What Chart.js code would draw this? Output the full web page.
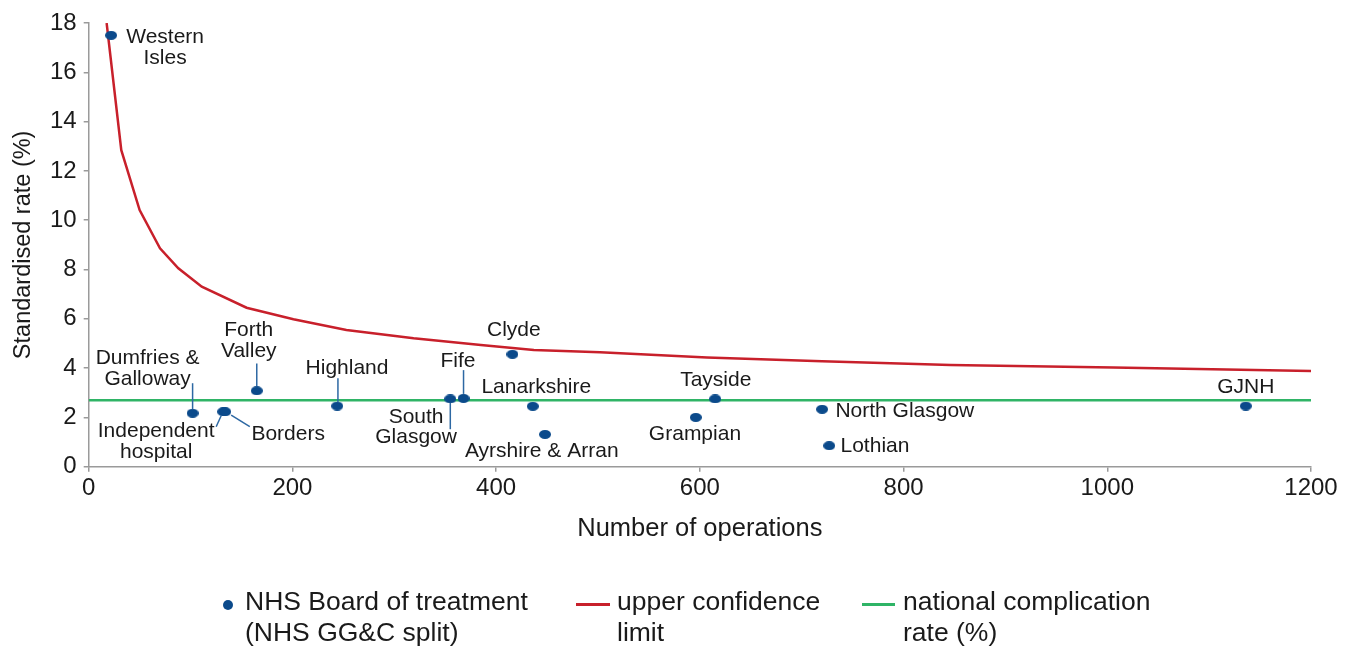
<!DOCTYPE html>
<html>
<head>
<meta charset="utf-8">
<script src="https://cdn.jsdelivr.net/npm/chart.js@4.4.0/dist/chart.umd.min.js"></script>
<style>
  html, body { margin: 0; padding: 0; background: #fff; }
  .chart-wrap { position: relative; width: 1349px; height: 646px; }
  .chart-legend { position: absolute; left: 0; top: 586px; width: 1349px; height: 60px;
    font-family: 'Liberation Sans', Arial, sans-serif; font-size: 26.5px; color: #1a1a1a; }
  .chart-legend__item { position: absolute; top: 0; line-height: 31px; white-space: pre-line; }
  .chart-legend__dot { position: absolute; width: 10px; height: 10px; border-radius: 50%; }
  .chart-legend__line { position: absolute; height: 3px; }
</style>
</head>
<body>
<div class="chart-wrap">
  <canvas id="chart" width="1349" height="646"></canvas>
  <div class="chart-legend js-legend"></div>
</div>
<script>
// NHS boards: number of operations vs standardised complication rate
const boardNames = ['Western Isles', 'Dumfries & Galloway', 'Independent hospital', 'Borders', 'Forth Valley',
  'Highland', 'South Glasgow', 'Fife', 'Clyde', 'Lanarkshire', 'Ayrshire & Arran', 'Grampian', 'Tayside',
  'North Glasgow', 'Lothian', 'GJNH'];
const boardOperations = [22, 102, 132, 134, 165, 244, 355, 368, 416, 436, 448, 596, 615, 720, 727, 1136];
const boardRates = [17.5, 2.17, 2.23, 2.23, 3.08, 2.46, 2.75, 2.77, 4.56, 2.45, 1.31, 2.0, 2.75, 2.33, 0.85, 2.46];

// upper confidence limit
const uclOperations = [17.6, 32, 50, 70, 88, 111, 155, 201, 253, 319, 385, 437, 502, 607, 720, 846, 1006, 1200];
const uclRates = [18.0, 12.84, 10.41, 8.86, 8.05, 7.3, 6.45, 5.98, 5.55, 5.21, 4.94, 4.73, 4.64, 4.43, 4.28, 4.13, 4.02, 3.88];

const nationalRate = 2.7;
const operationsRange = [0, 1200];
const rateRange = [0, 18];

const legendLabels = ['NHS Board of treatment\n(NHS GG&C split)', 'upper confidence\nlimit', 'national complication\nrate (%)'];

const FONT = "'Liberation Sans', Arial, sans-serif";
const TEXT = '#1a1a1a';
const AXIS = '#9a9a9a';
const BLUE = '#0b4a8b';
const RED = '#c8202b';
const GREEN = '#2fb466';

// label placement relative to each dot, in pixels
const labelLayout = {
  'Western Isles': { lines: ['Western', 'Isles'], dx: 54, dy: [8, 29] },
  'Dumfries & Galloway': { lines: ['Dumfries &', 'Galloway'], dx: -45, dy: [-49.5, -28], leader: [0, -30, 0, -4] },
  'Independent hospital': { lines: ['Independent', 'hospital'], dx: -67, dy: [25.3, 46.3], leader: [-7, 15, -2, 4] },
  'Borders': { lines: ['Borders'], dx: 63, dy: [28], leader: [6, 3.3, 24.6, 15] },
  'Forth Valley': { lines: ['Forth', 'Valley'], dx: -8, dy: [-54.7, -33.7], leader: [0, -27.4, 0, -4.5] },
  'Highland': { lines: ['Highland'], dx: 9.8, dy: [-32], leader: [0.7, -27.7, 0.7, -4] },
  'South Glasgow': { lines: ['South', 'Glasgow'], dx: -34.2, dy: [24, 44.5], leader: [0, 4, 0, 30.3] },
  'Fife': { lines: ['Fife'], dx: -5.6, dy: [-31.3], leader: [0, -28.3, 0, -4.5] },
  'Clyde': { lines: ['Clyde'], dx: 1.4, dy: [-18.3] },
  'Lanarkshire': { lines: ['Lanarkshire'], dx: 3.5, dy: [-13.6] },
  'Ayrshire & Arran': { lines: ['Ayrshire & Arran'], dx: -3.3, dy: [22.4] },
  'Grampian': { lines: ['Grampian'], dx: -0.8, dy: [22.7] },
  'Tayside': { lines: ['Tayside'], dx: 0.6, dy: [-13] },
  'North Glasgow': { lines: ['North Glasgow'], dx: 13.3, dy: [8], align: 'left' },
  'Lothian': { lines: ['Lothian'], dx: 11.3, dy: [6], align: 'left' },
  'GJNH': { lines: ['GJNH'], dx: 0, dy: [-13.3] },
};

const makeDot = (w, h, color) => {
  const c = document.createElement('canvas');
  c.width = w;
  c.height = h;
  const ctx = c.getContext('2d');
  ctx.fillStyle = color;
  ctx.beginPath();
  ctx.ellipse(w / 2, h / 2, w / 2, h / 2, 0, 0, Math.PI * 2);
  ctx.fill();
  return c;
};

const boardLabels = {
  id: 'boardLabels',
  afterDatasetsDraw(chart) {
    const { ctx } = chart;
    const meta = chart.getDatasetMeta(0);
    ctx.save();
    ctx.font = `21px ${FONT}`;
    ctx.fillStyle = TEXT;
    ctx.textBaseline = 'alphabetic';
    meta.data.forEach((pt, i) => {
      const cfg = labelLayout[boardNames[i]];
      if (!cfg) return;
      if (cfg.leader) {
        const [x1, y1, x2, y2] = cfg.leader;
        ctx.strokeStyle = '#2d68a3';
        ctx.lineWidth = 1.5;
        ctx.beginPath();
        ctx.moveTo(pt.x + x1, pt.y + y1);
        ctx.lineTo(pt.x + x2, pt.y + y2);
        ctx.stroke();
      }
      ctx.textAlign = cfg.align || 'center';
      cfg.lines.forEach((line, j) => ctx.fillText(line, pt.x + cfg.dx, pt.y + cfg.dy[j]));
    });
    ctx.restore();
  },
};

Chart.defaults.font.family = FONT;
Chart.defaults.color = TEXT;

const chart = new Chart(document.getElementById('chart'), {
  type: 'scatter',
  data: {
    datasets: [
      {
        label: legendLabels[0],
        data: boardOperations.map((x, i) => ({ x, y: boardRates[i] })),
        pointStyle: makeDot(12, 9, BLUE),
        backgroundColor: BLUE,
        borderColor: BLUE,
      },
      {
        label: legendLabels[1],
        data: uclOperations.map((x, i) => ({ x, y: uclRates[i] })),
        showLine: true,
        borderColor: RED,
        backgroundColor: RED,
        borderWidth: 2.5,
        pointRadius: 0,
        tension: 0,
      },
      {
        label: legendLabels[2],
        data: operationsRange.map((x) => ({ x, y: nationalRate })),
        showLine: true,
        borderColor: GREEN,
        backgroundColor: GREEN,
        borderWidth: 2.5,
        pointRadius: 0,
      },
    ],
  },
  options: {
    responsive: false,
    animation: false,
    events: [],
    layout: { padding: { left: 0, right: 38, top: 23, bottom: 89.3 } },
    plugins: { legend: { display: false }, tooltip: { enabled: false } },
    scales: {
      x: {
        type: 'linear',
        min: operationsRange[0],
        max: operationsRange[1],
        ticks: { stepSize: 200, font: { size: 24 }, color: TEXT, padding: 2, callback: (v) => String(v) },
        grid: { drawOnChartArea: false, tickLength: 5, color: AXIS, lineWidth: 1.5 },
        border: { color: AXIS, width: 1.5 },
        title: { display: true, text: 'Number of operations', font: { size: 25.5 }, color: TEXT, padding: { top: 0, bottom: 12 } },
        afterFit: (scale) => { scale.height = 90; },
      },
      y: {
        min: rateRange[0],
        max: rateRange[1],
        ticks: { stepSize: 2, font: { size: 24 }, color: TEXT, padding: 7 },
        grid: { drawOnChartArea: false, tickLength: 5, color: AXIS, lineWidth: 1.5 },
        border: { color: AXIS, width: 1.5 },
        title: { display: true, text: 'Standardised rate (%)', font: { size: 23.5 }, color: TEXT, padding: { top: 9, bottom: 0 } },
        afterFit: (scale) => { scale.width = 88.7; },
      },
    },
  },
  plugins: [boardLabels],
});

// html legend with two-line labels
const legendRoot = document.querySelector('.js-legend');
const legendSpots = [
  { marker: 'dot', markerX: 223, textX: 245 },
  { marker: 'line', markerX: 576, markerW: 34, textX: 617 },
  { marker: 'line', markerX: 862, markerW: 33, textX: 903 },
];
chart.data.datasets.forEach((ds, i) => {
  const spot = legendSpots[i];
  const mark = document.createElement('span');
  if (spot.marker === 'dot') {
    mark.className = 'chart-legend__dot';
    mark.style.left = `${spot.markerX}px`;
    mark.style.top = '14px';
  } else {
    mark.className = 'chart-legend__line';
    mark.style.left = `${spot.markerX}px`;
    mark.style.width = `${spot.markerW}px`;
    mark.style.top = '17px';
  }
  mark.style.background = ds.borderColor;
  legendRoot.appendChild(mark);

  const text = document.createElement('div');
  text.className = 'chart-legend__item';
  text.style.left = `${spot.textX}px`;
  text.textContent = ds.label;
  legendRoot.appendChild(text);
});
</script>
</body>
</html>
